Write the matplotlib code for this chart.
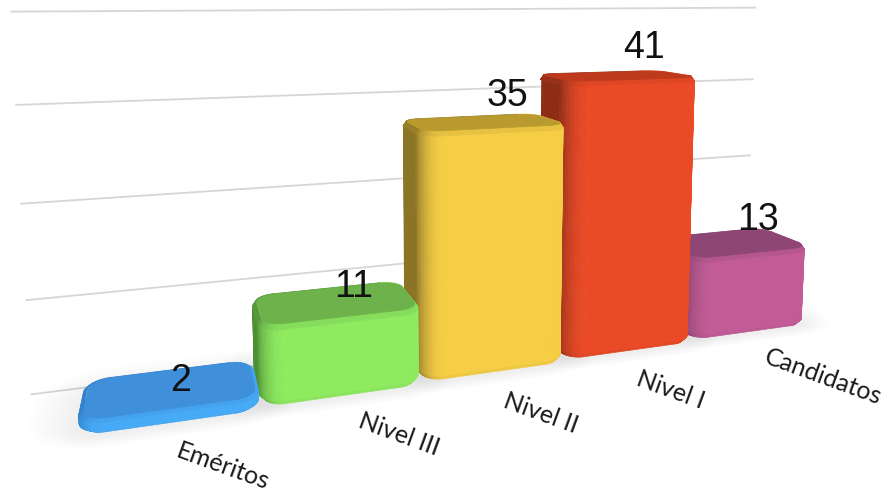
"""
Perspective bar chart, SNI levels
"""
import numpy as np
import matplotlib
matplotlib.use("Agg")
import matplotlib.pyplot as plt
from matplotlib.colors import to_rgb
from mpl_toolkits.mplot3d import proj3d
from mpl_toolkits.mplot3d.art3d import Poly3DCollection

categories = ["Eméritos", "Nivel III", "Nivel II", "Nivel I", "Candidatos"]
values = [2, 11, 35, 41, 13]
grid_levels = [0, 13, 26, 39, 51]

front_colors = ["#46aaf6", "#8eeb60", "#f6ce45", "#ea4a26", "#c25b96"]
top_colors = ["#3f8fdb", "#6db24a", "#b89a2e", "#be3a1c", "#8e4774"]
side_colors = ["#2f7fc8", "#4e8f35", "#8c7426", "#8e2d16", "#86406b"]

# nudges for the texts, the originals do not sit on a regular spot
value_lift = [-0.9, 0.4, 3.1, 3.8, 2.1]
value_dx = [0.05, 0.14, 0.22, 0.28, 0.33]
label_dx = [51, 54, 44, 38, 70]
label_dy = [-41, -37, -40, -38, -44]

PITCH = 0.895
ROW_TILT = 0.03
BAR_W = 0.89
BAR_D = 0.52
WALL_Y = 0.60
XLIM = (-0.75, 4.30)
GRID_X = (-0.73, 3.87)
YLIM = (-0.2, 1.8)
ZLIM = (0, 77.7)


def mix(a, b, t):
    a, b = np.array(to_rgb(a)), np.array(to_rgb(b))
    return tuple(a + (b - a) * t)


def footprint(x0, x1, y0, y1, r, n=18):
    # rounded rectangle, counter clockwise, starts front left
    pts = []
    corners = [(x0 + r, y0 + r, 180), (x1 - r, y0 + r, 270), (x1 - r, y1 - r, 0), (x0 + r, y1 - r, 90)]
    for cx, cy, a in corners:
        for t in np.radians(np.linspace(a, a + 90, n)):
            pts.append((cx + r * np.cos(t), cy + r * np.sin(t)))
    return np.array(pts)


def add_bar(ax, x, y, h, front, top, side, zorder):
    x0, x1 = x - BAR_W / 2, x + BAR_W / 2
    y0, y1 = y, y + BAR_D
    r = 0.13
    bev = min(0.7, h * 0.2)
    base = min(0.8, h * 0.25)
    outer = footprint(x0, x1, y0, y1, r)
    inner = footprint(x0 + 0.02, x1 - 0.02, y0 + 0.02, y1 - 0.02, r - 0.02)
    under = footprint(x0 + 0.03, x1 - 0.03, y0 + 0.03, y1 - 0.03, r - 0.03)
    cen = np.array([x, (y0 + y1) / 2])
    walls, wall_cols, bevels, bevel_cols = [], [], [], []
    for i in range(len(outer)):
        j = (i + 1) % len(outer)
        a, b = outer[i], outer[j]
        if np.allclose(a, b):
            continue
        nrm = np.array([b[1] - a[1], a[0] - b[0]])
        nrm = nrm / np.linalg.norm(nrm)
        if np.dot((a + b) / 2 - cen, nrm) < 0:
            nrm = -nrm
        t = max(0.0, -nrm[1]) ** 1.2 if nrm[0] <= 0 else 1.0
        col = mix(side, front, t)
        c, d = inner[i], inner[j]
        bevels.append([(a[0], a[1], h - bev), (b[0], b[1], h - bev), (d[0], d[1], h), (c[0], c[1], h)])
        bevel_cols.append(mix(col, top, 0.25))
        if nrm[1] > 0.05:
            continue  # back of the bar, never seen
        e, f = under[i], under[j]
        walls.append([(e[0], e[1], 0), (f[0], f[1], 0), (b[0], b[1], base), (a[0], a[1], base)])
        wall_cols.append(mix(col, "#000000", 0.03))
        walls.append([(a[0], a[1], base), (b[0], b[1], base), (b[0], b[1], h - bev), (a[0], a[1], h - bev)])
        wall_cols.append(col)
    cap = [[(p[0], p[1], h) for p in inner]]
    ax.add_collection3d(Poly3DCollection(walls, facecolors=wall_cols, edgecolors=wall_cols, linewidths=0.5, zorder=zorder))
    ax.add_collection3d(Poly3DCollection(bevels, facecolors=bevel_cols, edgecolors=bevel_cols, linewidths=0.5, zorder=zorder + 0.1))
    ax.add_collection3d(Poly3DCollection(cap, facecolors=[to_rgb(top)], edgecolors=[to_rgb(top)], linewidths=0.5, zorder=zorder + 0.2))


def add_shadow(ax, x, y, zorder):
    # soft grey patch on the floor
    for grow in np.linspace(0.26, 0.02, 16):
        pts = footprint(x - BAR_W / 2 - grow, x + BAR_W / 2 + grow, y - grow * 0.5, y + BAR_D + grow * 1.3, 0.13 + grow)
        poly = [(p[0], p[1], 0) for p in pts]
        ax.add_collection3d(Poly3DCollection([poly], facecolors=[(0.3, 0.3, 0.3, 0.005)], edgecolors="none", zorder=zorder))


fig = plt.figure(figsize=(8.87, 4.92), dpi=100)
S, cx, cy = 887, 443, 99
ax = fig.add_axes([(cx - S / 2) / 887, 1 - (cy + S / 2) / 492, S / 887, S / 492], projection="3d", computed_zorder=False)

x_box = 1.65
unit = x_box / (XLIM[1] - XLIM[0])
aspect = np.array([x_box, unit * (YLIM[1] - YLIM[0]), 1.04])
ax.set_xlim(*XLIM)
ax.set_ylim(*YLIM)
ax.set_zlim(*ZLIM)
ax.set_box_aspect(aspect, zoom=np.linalg.norm(aspect) / 1.905)
ax.view_init(elev=6, azim=-108)
ax.set_proj_type("persp", focal_length=0.183)
ax.set_xticks([])
ax.set_yticks([])
ax.set_zticks([])
ax.set_axis_off()

for level in grid_levels:
    ax.plot(GRID_X, [WALL_Y, WALL_Y], [level, level], color="#d6d6d6", lw=1.3, zorder=1)

pos = [i * PITCH for i in range(len(values))]
row = [i * ROW_TILT for i in range(len(values))]

for p, r in zip(pos, row):
    add_shadow(ax, p, r, 2)

for i, (v, f, t, s) in enumerate(zip(values, front_colors, top_colors, side_colors)):
    add_bar(ax, pos[i], row[i], v, f, t, s, 10 - i)

M = ax.get_proj()
for i, (name, v) in enumerate(zip(categories, values)):
    ax.text(pos[i] + value_dx[i], row[i] + BAR_D * 0.8, v + value_lift[i], str(v), family="Liberation Sans", fontsize=27, ha="center", va="center", color="#111111", zorder=20)
    px, py, _ = proj3d.proj_transform(pos[i], row[i], 0, M)
    ax.annotate(name, (px, py), xytext=(label_dx[i], label_dy[i]), textcoords="offset pixels",
                family="Lato", fontsize=18, rotation=-20, rotation_mode="anchor", ha="center", va="center",
                color="#1a1a1a", zorder=20)

fig.savefig("out.png", dpi=100)
